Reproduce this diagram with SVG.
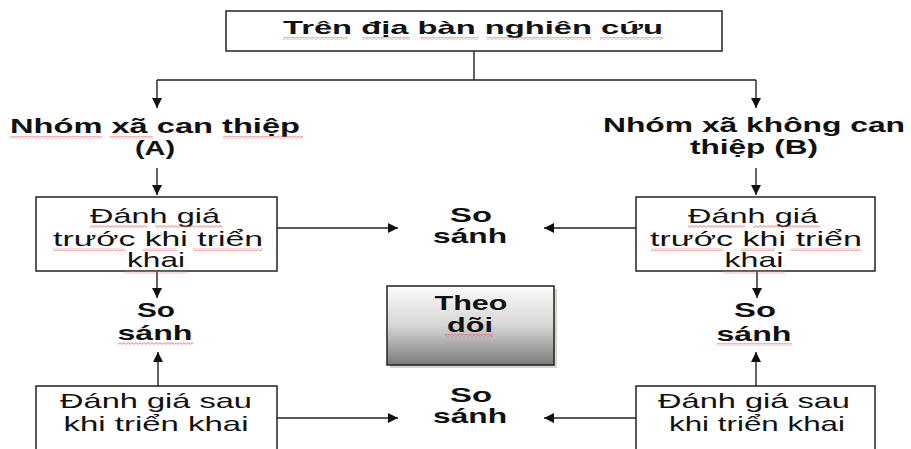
<svg xmlns="http://www.w3.org/2000/svg" width="911" height="449" viewBox="0 0 911 449">
<style>
text{font-family:"Liberation Sans",Arial,sans-serif;fill:#111;text-anchor:middle}
.b{font-weight:bold;font-size:21px}
.n{font-size:21px}
.t{font-weight:bold;font-size:19px}
.box{fill:#fff;stroke:#222;stroke-width:1.5}
.c{fill:none;stroke:#222;stroke-width:1.4}
.a{marker-end:url(#ah)}
.sq{fill:url(#sq)}
</style>
<defs>
<marker id="ah" markerUnits="userSpaceOnUse" markerWidth="11" markerHeight="11" refX="10" refY="5" orient="auto">
<path d="M0,0 L10,5 L0,10 z" fill="#111"/>
</marker>
<pattern id="sq" patternUnits="userSpaceOnUse" width="4" height="3">
<path d="M0,0.6 L2,2.4 L4,0.6" fill="none" stroke="#e05a5a" stroke-width="0.8"/>
</pattern>
<linearGradient id="g" x1="0" y1="0" x2="0" y2="1">
<stop offset="0" stop-color="#fafafa"/>
<stop offset="0.5" stop-color="#d6d6d6"/>
<stop offset="1" stop-color="#7a7a7a"/>
</linearGradient>
</defs>

<g id="connectors">
<path class="c" d="M474,51 V80 M157,80 H756"/>
<path class="c a" d="M157,80 V108"/>
<path class="c a" d="M756,80 V108"/>
<path class="c a" d="M157,168 V195"/>
<path class="c a" d="M756,168 V195"/>
<path class="c a" d="M277,228 H398"/>
<path class="c a" d="M636,228 H544"/>
<path class="c a" d="M157,271 V298"/>
<path class="c a" d="M757,271 V298"/>
<path class="c a" d="M158,386 V352"/>
<path class="c a" d="M756,386 V352"/>
<path class="c a" d="M277,418 H398"/>
<path class="c a" d="M636,418 H544"/>
</g>

<g id="top">
<rect class="box" x="226" y="11" width="496" height="40"/>
<text class="t" x="473" y="34" textLength="380" lengthAdjust="spacingAndGlyphs">Trên địa bàn nghiên cứu</text>
<rect class="sq" x="283" y="37" width="64" height="3"/>
<rect class="sq" x="362" y="37" width="48" height="3"/>
<rect class="sq" x="420" y="37" width="58" height="3"/>
<rect class="sq" x="487" y="37" width="105" height="3"/>
<rect class="sq" x="600" y="37" width="63" height="3"/>
</g>

<g id="groupA">
<text class="b" x="155" y="133" font-size="22" textLength="290" lengthAdjust="spacingAndGlyphs">Nhóm xã can thiệp</text>
<text class="b" x="155" y="155" textLength="40" lengthAdjust="spacingAndGlyphs">(A)</text>
<rect class="sq" x="10" y="136" width="92" height="3"/>
<rect class="sq" x="110" y="136" width="43" height="3"/>
<rect class="sq" x="223" y="136" width="80" height="3"/>
</g>

<g id="groupB">
<text class="b" x="754" y="132" textLength="302" lengthAdjust="spacingAndGlyphs">Nhóm xã không can</text>
<text class="b" x="754" y="154" textLength="128" lengthAdjust="spacingAndGlyphs">thiệp (B)</text>
</g>

<g id="preA">
<rect class="box" x="36" y="197" width="241" height="74"/>
<text class="n" x="155" y="223" textLength="130" lengthAdjust="spacingAndGlyphs">Đánh giá</text>
<text class="n" x="158" y="246" textLength="210" lengthAdjust="spacingAndGlyphs">trước khi triển</text>
<text class="n" x="156" y="267" textLength="58" lengthAdjust="spacingAndGlyphs">khai</text>
<rect class="sq" x="90" y="225" width="57" height="3"/>
<rect class="sq" x="155" y="225" width="67" height="3"/>
<rect class="sq" x="53" y="248" width="72" height="3"/>
<rect class="sq" x="143" y="248" width="34" height="3"/>
<rect class="sq" x="193" y="248" width="70" height="3"/>
<rect class="sq" x="125" y="271" width="62" height="3"/>
</g>

<g id="preB">
<rect class="box" x="636" y="197" width="239" height="74"/>
<text class="n" x="753" y="223" textLength="130" lengthAdjust="spacingAndGlyphs">Đánh giá</text>
<text class="n" x="756" y="246" textLength="212" lengthAdjust="spacingAndGlyphs">trước khi triển</text>
<text class="n" x="754" y="267" textLength="59" lengthAdjust="spacingAndGlyphs">khai</text>
<rect class="sq" x="688" y="225" width="57" height="3"/>
<rect class="sq" x="753" y="225" width="67" height="3"/>
<rect class="sq" x="651" y="248" width="72" height="3"/>
<rect class="sq" x="741" y="248" width="34" height="3"/>
<rect class="sq" x="791" y="248" width="70" height="3"/>
<rect class="sq" x="723" y="271" width="62" height="3"/>
</g>

<g id="cmpTop">
<text class="b" x="471" y="222" textLength="42" lengthAdjust="spacingAndGlyphs">So</text>
<text class="b" x="470" y="243" textLength="74" lengthAdjust="spacingAndGlyphs">sánh</text>
</g>

<g id="cmpA">
<text class="b" x="156" y="317" textLength="38" lengthAdjust="spacingAndGlyphs">So</text>
<text class="b" x="155" y="340" textLength="75" lengthAdjust="spacingAndGlyphs">sánh</text>
<rect class="sq" x="118" y="342" width="75" height="3"/>
</g>

<g id="cmpB">
<text class="b" x="755" y="317" textLength="42" lengthAdjust="spacingAndGlyphs">So</text>
<text class="b" x="754" y="341" textLength="75" lengthAdjust="spacingAndGlyphs">sánh</text>
<rect class="sq" x="717" y="343" width="75" height="3"/>
</g>

<g id="theodoi">
<rect x="390" y="289" width="167" height="79" fill="#b8bcaa" opacity="0.6"/>
<rect x="387" y="286" width="167" height="79" fill="url(#g)" stroke="#222" stroke-width="1.5"/>
<text class="b" x="471" y="310" textLength="73" lengthAdjust="spacingAndGlyphs">Theo</text>
<text class="b" x="470" y="332" textLength="46" lengthAdjust="spacingAndGlyphs">dõi</text>
<rect class="sq" x="445" y="334" width="48" height="3"/>
</g>

<g id="cmpBottom">
<text class="b" x="471" y="402" textLength="42" lengthAdjust="spacingAndGlyphs">So</text>
<text class="b" x="470" y="423" textLength="74" lengthAdjust="spacingAndGlyphs">sánh</text>
</g>

<g id="postA">
<rect class="box" x="36" y="386" width="241" height="70"/>
<text class="n" x="156" y="408" textLength="192" lengthAdjust="spacingAndGlyphs">Đánh giá sau</text>
<text class="n" x="156" y="431" textLength="185" lengthAdjust="spacingAndGlyphs">khi triển khai</text>
</g>

<g id="postB">
<rect class="box" x="636" y="386" width="239" height="70"/>
<text class="n" x="754" y="408" textLength="192" lengthAdjust="spacingAndGlyphs">Đánh giá sau</text>
<text class="n" x="757" y="431" textLength="176" lengthAdjust="spacingAndGlyphs">khi triển khai</text>
</g>
</svg>
